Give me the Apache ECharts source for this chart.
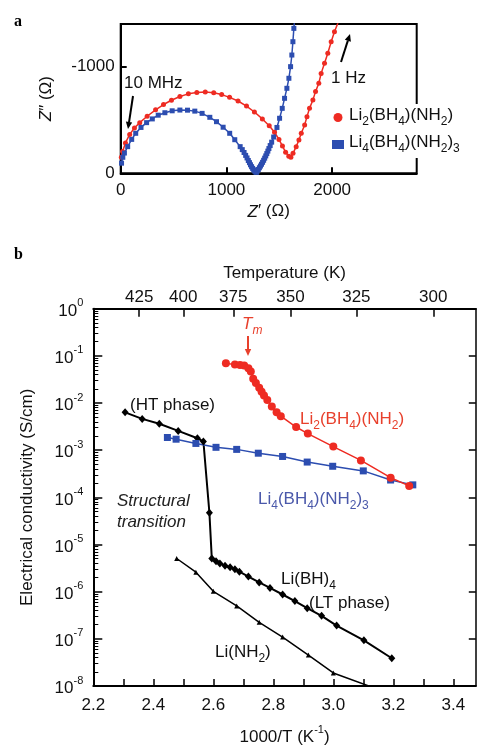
<!DOCTYPE html>
<html>
<head>
<meta charset="utf-8">
<script src="https://cdn.jsdelivr.net/npm/echarts@6/dist/echarts.min.js"></script>
<style>
  html, body { margin: 0; padding: 0; background: #fff; }
  #chart { width: 478px; height: 751px; }
</style>
</head>
<body>
<div id="chart"></div>
<script>
const FONT = '"Liberation Sans", Arial, sans-serif';
const RED = '#ee2b22';
const BLUE = '#2c4db0';
const RED_TXT = '#e8402c';
const BLUE_TXT = '#4a58aa';

// panel a: impedance, [Z', -Z''] in ohm
const nyqLi2 = [
  [6, 150], [18, 205], [45, 285], [85, 365], [130, 425], [180, 475], [250, 535], [330, 595],
  [405, 645], [480, 685], [560, 720], [640, 745], [720, 757], [800, 762], [880, 755], [955, 738],
  [1030, 712], [1110, 678], [1190, 630], [1265, 575], [1340, 510], [1405, 445], [1455, 385],
  [1497, 318], [1530, 255], [1560, 198], [1590, 160], [1610, 150], [1630, 187], [1660, 250],
  [1686, 312], [1708, 375], [1740, 453], [1762, 531], [1786, 609], [1818, 687], [1843, 766],
  [1874, 844], [1896, 937], [1928, 1031], [1959, 1125], [1991, 1234], [2022, 1328], [2055, 1410]
];
const nyqLi4 = [
  [8, 95], [20, 150], [35, 190], [66, 250], [104, 318], [142, 375], [192, 430], [245, 475],
  [299, 510], [355, 545], [418, 568], [487, 586], [560, 593], [632, 592], [701, 583], [770, 562],
  [843, 525], [906, 484], [969, 432], [1031, 375], [1079, 315], [1130, 250], [1150, 222],
  [1167, 195], [1182, 168], [1195, 144], [1207, 120], [1218, 100], [1228, 80], [1238, 62],
  [1248, 46], [1258, 32], [1268, 20], [1277, 12], [1285, 9], [1292, 22], [1302, 36], [1312, 52],
  [1322, 68], [1332, 85], [1342, 103], [1352, 122], [1362, 142], [1372, 163], [1382, 185],
  [1392, 208], [1402, 232], [1414, 260], [1428, 292], [1447, 340], [1478, 430], [1503, 516],
  [1528, 609], [1550, 703], [1572, 797], [1591, 891], [1607, 1000], [1619, 1109], [1629, 1234],
  [1638, 1359], [1645, 1440]
];

// panel b: conductivity, [1000/T, S/cm]
const condLi2 = [
  [2.642, 6.97e-2], [2.672, 6.52e-2], [2.689, 6.43e-2], [2.703, 6.22e-2], [2.717, 5.48e-2],
  [2.725, 4.67e-2], [2.733, 3.29e-2], [2.742, 2.67e-2], [2.753, 2.10e-2], [2.761, 1.74e-2],
  [2.769, 1.44e-2], [2.780, 1.16e-2], [2.795, 8.47e-3], [2.811, 6.35e-3], [2.825, 5.25e-3],
  [2.876, 3.10e-3], [2.915, 2.25e-3], [3.000, 1.19e-3], [3.092, 6.07e-4], [3.191, 2.61e-4],
  [3.253, 1.75e-4]
];
const condLi4 = [
  [2.447, 1.86e-3], [2.476, 1.71e-3], [2.542, 1.39e-3], [2.609, 1.15e-3], [2.678, 1.04e-3],
  [2.750, 8.63e-4], [2.831, 7.36e-4], [2.913, 5.60e-4], [2.998, 4.56e-4], [3.100, 3.64e-4],
  [3.191, 2.33e-4], [3.265, 1.84e-4]
];
const condLiBH4 = [
  [2.306, 6.35e-3], [2.363, 4.61e-3], [2.420, 3.63e-3], [2.483, 2.56e-3], [2.547, 1.79e-3],
  [2.567, 1.53e-3], [2.587, 4.71e-5], [2.595, 5.05e-6], [2.609, 4.44e-6], [2.622, 3.97e-6],
  [2.639, 3.55e-6], [2.656, 3.28e-6], [2.672, 2.98e-6], [2.687, 2.66e-6], [2.717, 2.09e-6],
  [2.753, 1.57e-6], [2.789, 1.20e-6], [2.831, 8.71e-7], [2.872, 6.31e-7], [2.913, 4.46e-7],
  [2.961, 3.08e-7], [3.011, 1.91e-7], [3.102, 9.29e-8], [3.195, 3.87e-8]
];
const condLiNH2 = [
  [2.478, 5.05e-6], [2.542, 2.59e-6], [2.600, 1.02e-6], [2.678, 4.98e-7], [2.753, 2.24e-7],
  [2.831, 1.09e-7], [2.917, 4.53e-8], [3.000, 1.89e-8], [3.160, 8.0e-9]
];

// ticks
const zLabelsX = [0, 1000, 2000];
const zTicksX = [1000, 2000];
const zLabelsY = [0, 1000];
const zTicksY = [1000];
const invTLabels = [2.2, 2.4, 2.6, 2.8, 3.0, 3.2, 3.4];
const invTTicks = [2.2, 2.3, 2.4, 2.5, 2.6, 2.7, 2.8, 2.9, 3.0, 3.1, 3.2, 3.3, 3.4];
const tempLabels = [425, 400, 375, 350, 325, 300];
const decades = [1, 1e-1, 1e-2, 1e-3, 1e-4, 1e-5, 1e-6, 1e-7, 1e-8];
const mantissas = [2, 3, 4, 5, 6, 7, 8, 9];
const minorDecadeTicks = [];
decades.slice(1).forEach(d => mantissas.forEach(m => minorDecadeTicks.push(m * d)));

const RICH = {
  n: { fontSize: 17, fontFamily: FONT, verticalAlign: 'bottom', padding: [0, 0, 4, 0] },
  s: { fontSize: 12, fontFamily: FONT, verticalAlign: 'bottom' },
  b: { fontSize: 17, fontFamily: FONT, verticalAlign: 'bottom', padding: [5, 0, 0, 0] },
  p: { fontSize: 11, fontFamily: FONT, verticalAlign: 'top' },
  i: { fontSize: 17, fontFamily: FONT, fontStyle: 'italic', verticalAlign: 'bottom', padding: [0, 0, 4, 0] },
  is: { fontSize: 12, fontFamily: FONT, fontStyle: 'italic', verticalAlign: 'bottom' }
};

// "Li_2(BH_4)" -> rich markup with subscripts
function chem(s) {
  return s.split(/_(\d)/).map((part, i) => i % 2 ? '{s|' + part + '}' : (part ? '{n|' + part + '}' : '')).join('');
}
const pow10 = v => '{b|10}{p|' + Math.round(Math.log10(v)) + '}';

const black = { color: '#000', width: 2 };
const textBase = { fontFamily: FONT, fontSize: 17, color: '#111' };

function label(x, y, text, fill, extra) {
  return {
    type: 'text', x: x, y: y, z: 50,
    style: Object.assign({
      text: text, fill: fill || '#111', font: '17px ' + FONT, rich: RICH,
      align: 'left', textAlign: 'left', verticalAlign: 'middle', textVerticalAlign: 'middle'
    }, extra || {})
  };
}
function arrow(x1, y1, x2, y2, color) {
  const a = Math.atan2(y2 - y1, x2 - x1), L = 7, W = 3.2;
  const bx = x2 - L * Math.cos(a), by = y2 - L * Math.sin(a);
  return [
    { type: 'line', z: 50, shape: { x1: x1, y1: y1, x2: bx, y2: by }, style: { stroke: color, lineWidth: 2 } },
    { type: 'polygon', z: 50, shape: { points: [[x2, y2],
      [bx + W * Math.sin(a), by - W * Math.cos(a)], [bx - W * Math.sin(a), by + W * Math.cos(a)]] },
      style: { fill: color } }
  ];
}

const chart = echarts.init(document.getElementById('chart'), null, { renderer: 'canvas' });

const option = {
  animation: false,
  backgroundColor: '#fff',
  textStyle: textBase,
  grid: [
    { left: 120.7, top: 24, width: 296, height: 149.3, show: true, borderColor: '#000', borderWidth: 2 },
    { left: 93.3, top: 308.7, width: 382.5, height: 384.6 }
  ],
  legend: {
    orient: 'vertical', left: 328, top: 104, itemGap: 6, itemWidth: 12, itemHeight: 9,
    backgroundColor: '#fff', padding: [3, 6, 3, 4],
    textStyle: { fontSize: 17, fontFamily: FONT, rich: RICH },
    formatter: name => chem(name),
    data: [
      { name: 'Li_2(BH_4)(NH_2)', icon: 'circle', textStyle: { color: RED_TXT } },
      { name: 'Li_4(BH_4)(NH_2)_3', icon: 'rect', textStyle: { color: BLUE_TXT } }
    ]
  },
  xAxis: [
    {
      gridIndex: 0, type: 'value', min: 0, max: 2800,
      name: "{i|Z}{n|\u2032 (\u03a9)}", nameLocation: 'middle', nameGap: 30,
      nameTextStyle: { rich: RICH },
      axisLine: { lineStyle: black },
      axisTick: { inside: true, length: 6, lineStyle: black, customValues: zTicksX },
      axisLabel: { customValues: zLabelsX, margin: 9, fontSize: 17, color: '#111', formatter: v => String(v) },
      splitLine: { show: false }
    },
    {
      gridIndex: 1, type: 'value', min: 2.2, max: 3.475, position: 'bottom',
      name: '{b|1000/T (K}{p|-1}{b|)}', nameLocation: 'middle', nameGap: 38,
      nameTextStyle: { rich: RICH },
      axisLine: { lineStyle: black },
      axisTick: { inside: true, length: 7, lineStyle: { color: '#000', width: 1.5 }, customValues: invTTicks },
      axisLabel: { customValues: invTLabels, margin: 11, fontSize: 17, color: '#111', formatter: v => v.toFixed(1) },
      splitLine: { show: false }
    },
    {
      gridIndex: 1, type: 'value', min: 2.2, max: 3.475, position: 'top',
      name: 'Temperature (K)', nameLocation: 'middle', nameGap: 27,
      nameTextStyle: { fontSize: 17, fontFamily: FONT, color: '#111' },
      axisLine: { lineStyle: black },
      axisTick: { inside: true, length: 8, lineStyle: { color: '#000', width: 1.5 }, customValues: tempLabels.map(t => 1000 / t) },
      axisLabel: { customValues: tempLabels.map(t => 1000 / t), margin: 3, fontSize: 17, color: '#111',
        formatter: v => String(Math.round(1000 / v)) },
      splitLine: { show: false }
    }
  ],
  yAxis: [
    {
      gridIndex: 0, type: 'value', min: 0, max: 1400,
      name: '{i|Z}{n|\u2033 (\u03a9)}', nameLocation: 'middle', nameRotate: 90, nameGap: 62,
      nameTextStyle: { rich: RICH },
      axisLine: { lineStyle: black },
      axisTick: { inside: true, length: 6, lineStyle: black, customValues: zTicksY },
      axisLabel: { customValues: zLabelsY, margin: 6, fontSize: 17, color: '#111',
        formatter: v => v === 0 ? '0' : '-' + v },
      splitLine: { show: false }
    },
    {
      gridIndex: 1, type: 'log', logBase: 10, min: 1e-8, max: 1, position: 'left',
      name: 'Electrical conductivity (S/cm)', nameLocation: 'middle', nameRotate: 90, nameGap: 57,
      nameTextStyle: { fontSize: 17, fontFamily: FONT, color: '#111' },
      axisLine: { lineStyle: black },
      axisTick: { inside: true, length: 9, lineStyle: { color: '#000', width: 1.5 }, customValues: decades },
      axisLabel: { customValues: decades, margin: 10, color: '#111', rich: RICH, formatter: pow10 },
      splitLine: { show: false }
    },
    {
      gridIndex: 1, type: 'log', logBase: 10, min: 1e-8, max: 1, position: 'right',
      axisLine: { lineStyle: { color: '#000', width: 1.5 } },
      axisTick: { inside: true, length: 7, lineStyle: { color: '#000', width: 1.5 }, customValues: decades },
      axisLabel: { show: false },
      splitLine: { show: false }
    },
    {
      gridIndex: 1, type: 'log', logBase: 10, min: 1e-8, max: 1, position: 'left',
      axisLine: { show: false },
      axisTick: { inside: true, length: 5, lineStyle: { color: '#000', width: 1 }, customValues: minorDecadeTicks },
      axisLabel: { show: false },
      splitLine: { show: false }
    }
  ],
  series: [
    {
      name: 'Li_2(BH_4)(NH_2)', type: 'line', xAxisIndex: 0, yAxisIndex: 0, data: nyqLi2, clip: true,
      symbol: 'circle', symbolSize: 5, itemStyle: { color: RED }, lineStyle: { color: RED, width: 1.5 }
    },
    {
      name: 'Li_4(BH_4)(NH_2)_3', type: 'line', xAxisIndex: 0, yAxisIndex: 0, data: nyqLi4, clip: true,
      symbol: 'rect', symbolSize: 5, itemStyle: { color: BLUE }, lineStyle: { color: BLUE, width: 1.5 }
    },
    {
      name: 'LiBH4', type: 'line', xAxisIndex: 1, yAxisIndex: 1, data: condLiBH4, clip: true,
      symbol: 'diamond', symbolSize: [7, 8], itemStyle: { color: '#000' }, lineStyle: { color: '#000', width: 2 }
    },
    {
      name: 'LiNH2', type: 'line', xAxisIndex: 1, yAxisIndex: 1, data: condLiNH2, clip: true,
      symbol: 'triangle', symbolSize: 5, itemStyle: { color: '#000' }, lineStyle: { color: '#000', width: 1.5 }
    },
    {
      name: 'b-Li4', type: 'line', xAxisIndex: 1, yAxisIndex: 1, data: condLi4, clip: true,
      symbol: 'rect', symbolSize: 7, itemStyle: { color: BLUE }, lineStyle: { color: BLUE, width: 1.5 }
    },
    {
      name: 'b-Li2', type: 'line', xAxisIndex: 1, yAxisIndex: 1, data: condLi2, clip: true,
      symbol: 'circle', symbolSize: 8, itemStyle: { color: RED }, lineStyle: { color: RED, width: 1.5 }
    }
  ],
  graphic: [
    label(14, 22, 'a', '#000', { font: 'bold 16px "Liberation Serif", serif' }),
    label(14, 255, 'b', '#000', { font: 'bold 16px "Liberation Serif", serif' }),
    label(124, 83, '10 MHz', '#111'),
    ...arrow(133, 96, 128, 129, '#000'),
    label(331, 78, '1 Hz', '#111'),
    ...arrow(341, 62, 350, 34, '#000'),
    label(242, 326, '{i|T}{is|m}', RED_TXT),
    ...arrow(248, 336, 248, 356, RED_TXT),
    label(130, 405, '(HT phase)', '#111'),
    label(300, 421, chem('Li_2(BH_4)(NH_2)'), RED_TXT),
    label(258, 501, chem('Li_4(BH_4)(NH_2)_3'), BLUE_TXT),
    label(117, 501, 'Structural', '#222', { font: 'italic 17px ' + FONT }),
    label(117, 522, 'transition', '#222', { font: 'italic 17px ' + FONT }),
    label(281, 581, chem('Li(BH)_4'), '#111'),
    label(309, 603, '(LT phase)', '#111'),
    label(215, 654, chem('Li(NH_2)'), '#111')
  ]
};

chart.setOption(option);
</script>
</body>
</html>
